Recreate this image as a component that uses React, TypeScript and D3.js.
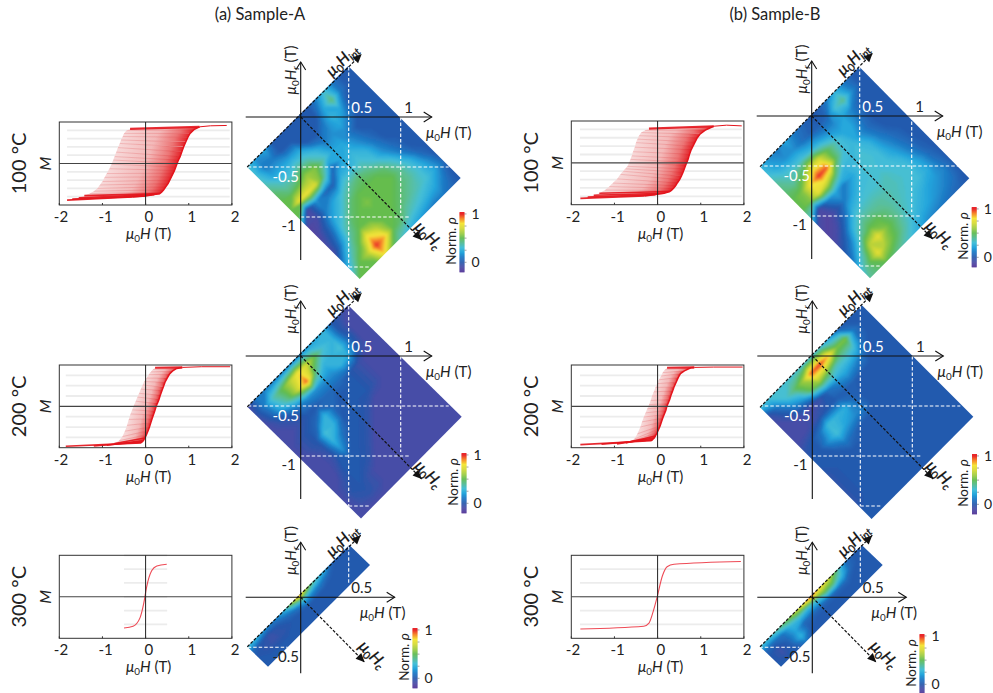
import React from 'react';
import * as d3 from 'd3';

// density, tenths of normalised rho, rows run from the Hint axis towards +Hc
const a100Grid = [
  [3, 1.5, 2, 0, 0, 0, 0, 0, 1, 3, 1, 0, 0],
  [3, 1, 1, 0, 0, 0, 0, 0, 2, 4.5, 1, 0, 0],
  [3.5, 2, 2, 2, 2, 0, 0, 1, 2.5, 2, 0, 0, 0],
  [4.5, 3.5, 3, 4, 3.5, 2.5, 1, 1.5, 2, 1, 0, 0, 0],
  [5, 4.5, 5, 6, 5.5, 3.5, 2, 2, 1, 0, 0, 0, 0],
  [5, 7.5, 7.8, 7.2, 4, 0.5, 2, 2.5, 1.5, 0.5, 0, 0, 0],
  [5, -1, 1.5, 0.5, 0.2, 2.5, 2.5, 3, 2.5, 1, 0, 0, 0],
  [-1.5, -1, 1, 2, 3, 4, 4.5, 4, 3, 1.5, 0.5, 0, 0],
  [-1.5, 0, 2, 3, 4.5, 5, 5, 5, 4.5, 3, 1, 0, 0],
  [-1, 0.5, 3, 4.5, 5, 5.5, 5, 5, 5, 4, 2.5, 0.5, 0],
  [-1, 1.5, 4, 5, 5, 5, 5, 5, 4.5, 4, 3, 1.5, 0],
  [1, 3.5, 5, 8, 6.5, 5, 5, 4.5, 4, 3.5, 3, 2, 0.5],
  [3, 5, 6.5, 10, 8.5, 5, 4.5, 3.5, 3, 2.5, 2, 1, 0],
  [5, 5, 5, 8, 5, 3.5, 2.5, 2, 1.5, 1, 1, 0.5, 0],
];
const a200Grid = [
  [-1, 1, 1, 1, 1, 1, 1, 1.5, 2, 2.5, 0, -0.5, -1],
  [-0.5, 1, 3.5, 5, 6.5, 8, 7, 5, 3, 2.5, 0, -1, -1],
  [-1, 0.5, 2.5, 4.5, 7, 9.5, 4.5, 2.5, 2.5, 3, 0.5, -1, -1],
  [-1, -0.5, 0, 1, 1.5, 1.5, 1.5, 1.5, 2.5, 2, 0, -1, -1],
  [-1, -1, -0.5, 0, 0, 0.5, 0.5, 0.5, 0, -0.5, -1, -1, -1],
  [-1, -0.5, 0, 0.5, 2.5, 0.5, 0, 0, 0, -0.5, -1, -1, -1],
  [-1, -0.5, 0, 3, 2.5, 0.2, 0, 0, 0, -0.5, -1, -1, -1],
  [-1, -1, -0.3, 2.5, 0.8, 0, 0, -0.3, -1, -1, -1, -1, -1],
  [-1, -1, -0.5, 1.5, 0, 0, -0.3, -1, -1, -1, -1, -1, -1],
  [-1, -1, 0, 0, 0, -0.3, -1, -1, -1, -1, -1, -1, -1],
  [-1, -0.5, 0, 0, -0.3, -1, -1, -1, -1, -1, -1, -1, -1],
  [-1, -0.2, 0, -0.5, -1, -1, -1, -1, -1, -1, -1, -1, -1],
  [-1, -0.5, -0.3, -0.5, -1, -1, -1, -1, -1, -1, -1, -1, -1],
  [-1, -1, -1, -1, -1, -1, -1, -1, -1, -1, -1, -1, -1],
];
const a300Grid = [
  [3, 2.5, 1.5, 1, 2, 5.5, 9, 6, 3.5, 2, 0.3, 0, 0],
  [0.5, 0, -0.5, 0, 0.5, 1, 2.5, 1.5, 1, 0.3, 0, 0, 0],
  [0, -0.3, -0.5, -0.3, 0, 0, 0, 0, 0, 0, 0, 0, 0],
  [0, 0, 0, 0, 0, 0, 0, 0, 0, 0, 0, 0, 0],
  [0, 0, 0, 0, 0, 0, 0, 0, 0, 0, 0, 0, 0],
];
const b100Grid = [
  [2.5, 1.5, 1, 2, 1, 0.5, 0, 0.2, 1, 2.5, 1, 0.2, 0],
  [3, 2, 1.5, 1.5, 0.8, 0.3, 0.2, 0.5, 3, 4.2, 1.5, 0.2, 0],
  [4, 3.2, 3, 3, 2.5, 2.2, 1.5, 1.5, 2, 1.2, 0.2, 0, 0],
  [4.5, 4, 5, 7, 7, 5, 3.5, 2.2, 2, 0.8, 0.1, 0, 0],
  [5, 5.5, 8, 10, 9.5, 5, 3, 2.7, 1.5, 0.6, 0, 0, 0],
  [5, 5.5, 7.5, 6.5, 4.5, 2.5, 2.7, 3, 2.5, 1, 0.2, 0, 0],
  [3.5, -1, 1, 2, 1, 2, 3, 3.2, 2.8, 1.5, 0.6, 0.1, 0],
  [-1, -1.5, -0.5, 1, 2, 2.8, 3, 3, 2.9, 2, 0.9, 0.2, 0],
  [-1.5, -1, 0.5, 2.5, 3, 3.2, 3.2, 3.5, 3, 2.7, 1.3, 0.3, 0],
  [-1, 0.2, 2.5, 3.8, 3.9, 3.9, 3.7, 3.5, 3.2, 3, 2, 0.6, 0],
  [0, 1.5, 4, 5, 5, 4.3, 3.7, 3.3, 3, 2.8, 2.2, 0.9, 0.1],
  [1, 3.5, 6.5, 7.5, 5.5, 4.5, 3.5, 3, 2.5, 2, 1.7, 1.2, 0.2],
  [3, 5, 7.5, 6, 5, 4, 3, 2.4, 2, 1.6, 1.2, 0.8, 0.1],
  [4, 4.5, 5, 4.5, 3.8, 3, 2.2, 1.5, 1.2, 0.9, 0.6, 0.3, 0],
];
const b200Grid = [
  [3, 3, 3, 3, 3, 3, 3, 3, 2, 0.5, 0, 0, 0],
  [-0.5, 1, 3, 4.5, 6, 9.5, 10, 8.5, 5.5, 5.5, 1, 0, 0],
  [-1, -0.3, 1, 2, 5, 6, 5, 3.5, 3.5, 3, 0.5, 0, 0],
  [-1, -1, -0.8, -1, -0.5, 0.8, 1.5, 2, 1.5, 0.8, 0, 0, 0],
  [-1, -1, -0.7, -0.3, 0, 0.2, 0.3, 0.3, 0, 0, 0, 0, 0],
  [-0.5, 0, 0.8, 2.8, 2.5, 2.2, 0.5, 0, 0, 0, 0, 0, 0],
  [0, 0, 1.5, 3, 2, 1.5, 1, 0, 0, 0, 0, 0, 0],
  [0, 0, 0.2, 1, 0.5, 0, 0, 0, 0, 0, 0, 0, 0],
  [-0.3, 0, 0, 0, 0, 0, 0, 0, 0, 0, 0, 0, 0],
  [-0.3, 0, 0, 0, 0, 0, 0, 0, 0, 0, 0, 0, 0],
  [-0.3, 0, 0, 0, 0, 0, 0, 0, 0, 0, 0, 0, 0],
  [-0.3, 0, 0, 0, 0, 0, 0, 0, 0, 0, 0, 0, 0],
  [0, 0, 0, 0, 0, 0, 0, 0, 0, 0, 0, 0, 0],
  [0, 0, 0, 0, 0, 0, 0, 0, 0, 0, 0, 0, 0],
];
const b300Grid = [
  [3, 3, 4, 5, 6.5, 8, 10, 8, 7, 4.5, 0.8, 0, 0],
  [0.5, 0.5, 0.8, 2.5, 3, 2.5, 3, 5, 4.5, 2.5, 0.5, 0, 0],
  [0, -0.5, 0.5, 2, 0.5, 0.5, 0.5, 0.5, 0.5, 0.5, 0, 0, 0],
  [0, -0.5, 0.3, 2.5, 0.3, 0, 0, 0, 0, 0, 0, 0, 0],
  [0, 0, 0, 1, 0, 0, 0, 0, 0, 0, 0, 0, 0],
];

// diamond corners in (H, Hr), left top right
const a100Corners = [[-0.535, -0.5], [0.475, 0.51], [1.6, -0.61]];
const a200Corners = [[-0.534, -0.507], [0.473, 0.51], [1.61, -0.607]];
const a300Corners = [[-0.534, -0.494], [0.486, 0.523], [0.693, 0.323]];
const b100Corners = [[-0.517, -0.507], [0.476, 0.493], [1.576, -0.623]];
const b200Corners = [[-0.523, -0.513], [0.494, 0.51], [1.61, -0.607]];
const b300Corners = [[-0.523, -0.494], [0.494, 0.523], [0.704, 0.323]];

// reversal curves: row i runs from left branch point i to right branch point i
const a100LeftH = [-0.36, -0.45, -0.5, -0.53, -0.57, -0.6, -0.64, -0.68, -0.72, -0.75, -0.79, -0.84, -0.9, -0.95, -1.0, -1.06, -1.12, -1.2, -1.3, -1.42, -1.55, -1.7, -1.82];
const a100LeftM = [1.0, 0.95, 0.87, 0.78, 0.68, 0.58, 0.46, 0.33, 0.2, 0.1, -0.02, -0.15, -0.29, -0.4, -0.52, -0.62, -0.72, -0.8, -0.87, -0.93, -0.99, -1.03, -1.06];
const a100RightH = [1.25, 1.12, 1.03, 0.98, 0.93, 0.88, 0.84, 0.8, 0.76, 0.73, 0.7, 0.67, 0.64, 0.6, 0.56, 0.52, 0.47, 0.42, 0.37, 0.33, 0.2, 0.0, -0.3];
const a100RightM = [1.06, 0.98, 0.87, 0.76, 0.62, 0.48, 0.34, 0.2, 0.1, 0, -0.1, -0.2, -0.28, -0.38, -0.48, -0.58, -0.67, -0.76, -0.83, -0.87, -0.9, -0.94, -0.97];
const a100SatH = [1.25, 1.5, 1.88];
const a100SatM = [1.06, 1.09, 1.1];

const a200LeftH = [0.22, 0.17, 0.12, 0.07, 0.02, -0.03, -0.07, -0.11, -0.15, -0.19, -0.23, -0.27, -0.31, -0.35, -0.39, -0.43, -0.48, -0.54, -0.62, -0.72, -0.9, -1.2, -1.85];
const a200LeftM = [1.12, 1.07, 1, 0.92, 0.82, 0.72, 0.62, 0.5, 0.38, 0.27, 0.15, 0.03, -0.1, -0.22, -0.38, -0.55, -0.72, -0.88, -1.0, -1.08, -1.13, -1.15, -1.16];
const a200RightH = [0.85, 0.72, 0.62, 0.55, 0.5, 0.45, 0.41, 0.38, 0.34, 0.31, 0.27, 0.24, 0.21, 0.18, 0.15, 0.12, 0.09, 0.06, 0.02, -0.02, -0.05, -0.08, -0.1];
const a200RightM = [1.13, 1.1, 1.02, 0.93, 0.82, 0.7, 0.56, 0.46, 0.32, 0.2, 0.08, -0.02, -0.14, -0.25, -0.36, -0.48, -0.6, -0.7, -0.82, -0.92, -0.99, -1.03, -1.06];
const a200SatH = [0.85, 1.3, 1.96];
const a200SatM = [1.13, 1.15, 1.15];

const b100LeftH = [-0.2, -0.3, -0.38, -0.43, -0.47, -0.5, -0.53, -0.57, -0.6, -0.63, -0.66, -0.7, -0.75, -0.8, -0.86, -0.94, -1.04, -1.12, -1.22, -1.35, -1.48, -1.62, -1.79];
const b100LeftM = [0.98, 0.93, 0.87, 0.78, 0.68, 0.58, 0.45, 0.32, 0.2, 0.1, 0, -0.1, -0.17, -0.24, -0.33, -0.46, -0.58, -0.68, -0.78, -0.87, -0.93, -0.98, -1.02];
const b100RightH = [1.3, 1.12, 0.98, 0.92, 0.87, 0.82, 0.78, 0.74, 0.71, 0.68, 0.65, 0.62, 0.59, 0.55, 0.51, 0.46, 0.42, 0.37, 0.32, 0.28, 0.15, -0.05, -0.3];
const b100RightM = [1.05, 0.95, 0.82, 0.72, 0.6, 0.48, 0.38, 0.25, 0.12, 0.02, -0.07, -0.17, -0.27, -0.38, -0.48, -0.57, -0.65, -0.73, -0.79, -0.82, -0.87, -0.91, -0.95];
const b100SatH = [1.3, 1.6, 1.95];
const b100SatM = [1.05, 1.08, 1.06];

const b200LeftH = [0.22, 0.17, 0.12, 0.08, 0.03, -0.01, -0.05, -0.09, -0.13, -0.16, -0.2, -0.24, -0.28, -0.32, -0.36, -0.4, -0.47, -0.54, -0.63, -0.74, -0.94, -1.3, -1.79];
const b200LeftM = [1.12, 1.06, 0.98, 0.88, 0.77, 0.66, 0.55, 0.42, 0.3, 0.17, 0.05, -0.07, -0.19, -0.31, -0.45, -0.6, -0.8, -0.95, -1.02, -1.06, -1.09, -1.1, -1.11];
const b200RightH = [0.85, 0.77, 0.62, 0.53, 0.48, 0.43, 0.38, 0.35, 0.31, 0.28, 0.24, 0.21, 0.19, 0.15, 0.12, 0.09, 0.06, 0.03, -0.01, -0.05, -0.08, -0.12, -0.15];
const b200RightM = [1.13, 1.12, 1.03, 0.95, 0.84, 0.7, 0.56, 0.45, 0.32, 0.2, 0.08, -0.02, -0.12, -0.24, -0.34, -0.45, -0.56, -0.65, -0.76, -0.86, -0.92, -0.97, -1.0];
const b200SatH = [0.85, 1.3, 1.97];
const b200SatM = [1.13, 1.14, 1.14];

const a300H = [-0.5, -0.29, -0.13, -0.04, 0.02, 0.14, 0.26, 0.49];
const a300M = [-0.9, -0.85, -0.61, -0.17, 0.26, 0.75, 0.89, 0.94];
const b300H = [-1.79, -0.32, -0.2, -0.09, -0.01, 0.11, 0.22, 0.38, 1.93];
const b300M = [-0.93, -0.85, -0.76, -0.37, 0, 0.6, 0.87, 0.94, 1.02];

const hTicks = [-2, -1, 0, 1, 2];
const stripes100 = [-0.96, -0.72, -0.48, -0.24, 0.24, 0.48, 0.72, 0.96];
const stripes200 = [-0.9, -0.6, -0.3, 0.3, 0.6, 0.9];
const stripes300 = [-0.8, -0.4, 0, 0.4, 0.8, 1.2];

const rhoDomain = [-2, -1, 0, 1, 2, 3, 4, 5, 6, 7, 8, 9, 10];
const rhoColors = ['#5b3d9c', '#4a4ca6', '#2457ab', '#1e78c4', '#25a5dc', '#45bfd8', '#5bbf9a', '#5fbb4f', '#9ccb3e', '#d3d936', '#f5e63a', '#f68b2c', '#e8262b'];
const color = d3.scaleLinear<string>().domain(rhoDomain).range(rhoColors);
const levels = [-3, ...d3.range(-2, 10.2, 0.2)];

const FONT = 'Lato, "Open Sans", sans-serif';

function Mu({ sub, unit, size = 15, ...rest }: any) {
  return (
    <text textAnchor="middle" fontFamily={FONT} fontSize={size} {...rest}>
      <tspan fontStyle="italic">μ</tspan>
      <tspan dy={3} fontSize={size * 0.66}>0</tspan>
      <tspan dy={-3} fontStyle="italic">H</tspan>
      {sub && <tspan dy={3} fontSize={size * 0.66} fontStyle="italic">{sub}</tspan>}
      {unit && <tspan dy={sub ? -3 : 0}> (T)</tspan>}
    </text>
  );
}

function Loop({ id, x0, top, bottom, temp, left, right, sat, single, stripes, stripeRange }: any) {
  const x = d3.scaleLinear().domain([-2, 2]).range([x0, x0 + 172.6]);
  const y = d3.scaleLinear().domain([-1.2, 1.2]).range([bottom, top]);
  const line = d3.line<number[]>().x(d => x(d[0])).y(d => y(d[1]));
  const smooth = d3.line<number[]>().x(d => x(d[0])).y(d => y(d[1])).curve(d3.curveMonotoneX);
  const rows = left ? left[0].map((h: number, i: number) => ({
    a: [h, left[1][i]], b: [right[0][i], right[1][i]],
  })) : [];
  const outline = rows.length ? [...rows.map((r: any) => r.a), ...rows.map((r: any) => r.b).reverse()] : [];
  const rightEdge = rows.map((r: any) => r.b);
  const n = rows.length;
  return (
    <g>
      <defs>
        {n > 0 && <clipPath id={`loop-${id}`}><path d={line(outline) as string} /></clipPath>}
        {rows.map((r: any, i: number) => (
          <linearGradient key={i} id={`row-${id}-${i}`} gradientUnits="userSpaceOnUse"
            x1={x(r.a[0])} x2={x(r.b[0])} y1={y(r.a[1])} y2={y(r.a[1])}>
            <stop offset="0" stopColor="#f7d8d8" />
            <stop offset="0.5" stopColor="#f3b9b9" />
            <stop offset="0.8" stopColor="#ec7474" />
            <stop offset="1" stopColor="#e31e24" />
          </linearGradient>
        ))}
      </defs>
      {stripes.map((m: number) => (
        <line key={m} x1={x(stripeRange[0])} x2={x(stripeRange[1])} y1={y(m)} y2={y(m)} stroke="#ececec" strokeWidth={1.8} />
      ))}
      <g clipPath={n > 0 ? `url(#loop-${id})` : undefined}>
        {rows.map((r: any, i: number) => {
          const next = rows[Math.min(i + 1, n - 1)];
          const w = Math.max(4, Math.abs(y(r.a[1]) - y(next.a[1])) + 1);
          return (
            <line key={i} x1={x(r.a[0]) - 4} y1={y(r.a[1]) + w / 2} x2={x(r.b[0]) + 4} y2={y(r.b[1]) + w / 2}
              stroke={`url(#row-${id}-${i})`} strokeWidth={w} />
          );
        })}
        {rows.map((r: any, i: number) => (
          <line key={i} x1={x(r.a[0])} y1={y(r.a[1])} x2={x(r.b[0])} y2={y(r.b[1])}
            stroke="#d9222a" strokeWidth={0.4} strokeOpacity={0.45} />
        ))}
      </g>
      {rows.map((r: any, i: number) => {
        if (i > 0 && i < n - 4) return null;
        return (
          <line key={i} x1={x(r.a[0])} y1={y(r.a[1])} x2={x(r.b[0])} y2={y(r.b[1])}
            stroke="#e3141c" strokeWidth={i === 0 ? 2.2 : 1.6} strokeOpacity={0.9} />
        );
      })}
      {n > 0 && <path d={line(rightEdge) as string} fill="none" stroke="#e3141c" strokeWidth={1.5} />}
      {sat && <path d={line(sat[0].map((h: number, i: number) => [h, sat[1][i]])) as string} fill="none" stroke="#e3141c" strokeWidth={1} />}
      {single && <path d={smooth(single[0].map((h: number, i: number) => [h, single[1][i]])) as string} fill="none" stroke="#ee4a55" strokeWidth={1.1} />}
      <rect x={x(-2)} y={top} width={x(2) - x(-2)} height={bottom - top} fill="none" stroke="#333" strokeWidth={1} />
      <line x1={x(-2)} x2={x(2)} y1={y(0)} y2={y(0)} stroke="#444" strokeWidth={1.1} />
      <line x1={x(0)} x2={x(0)} y1={top} y2={bottom} stroke="#222" strokeWidth={1} />
      {hTicks.map(t => (
        <g key={t}>
          <line x1={x(t)} x2={x(t)} y1={bottom} y2={bottom - 2} stroke="#333" />
          <text x={x(t) + (t === -2 ? 1.7 : 3.2)} y={bottom + 17} textAnchor="middle" fontFamily={FONT} fontSize={15} fill="#222">{t}</text>
        </g>
      ))}
      <Mu x={x(0) + 3} y={bottom + 34} fill="#222" unit />
      <text transform={`translate(${x0 - 8},${y(0)}) rotate(-90)`} textAnchor="middle" fontFamily={FONT} fontSize={16} fontStyle="italic" fill="#222">M</text>
      <text transform={`translate(${x0 - 33},${y(0)}) rotate(-90)`} textAnchor="middle" fontFamily={FONT} fontSize={20} fill="#222">{temp}</text>
    </g>
  );
}

function ColorBar({ x, top }: any) {
  const y = d3.scaleLinear().domain([-2, 10.4]).range([top + 60, top]);
  const steps = d3.range(-2, 10.4, 0.2);
  return (
    <g>
      {steps.map(s => (
        <rect key={s} x={x} y={y(s + 0.2)} width={5} height={y(s) - y(s + 0.2) + 0.4} fill={color(Math.min(s, 10))} />
      ))}
      {[0, 2.5, 5, 7.5, 10].map(t => (
        <line key={t} x1={x + 5} x2={x + 7} y1={y(t)} y2={y(t)} stroke="#666" strokeWidth={0.6} />
      ))}
      <text x={x + 16} y={y(10) + 5} textAnchor="middle" fontFamily={FONT} fontSize={14} fill="#222">1</text>
      <text x={x + 16} y={y(0) + 5} textAnchor="middle" fontFamily={FONT} fontSize={14} fill="#222">0</text>
      <text transform={`translate(${x - 4},${top + 29}) rotate(-90)`} textAnchor="middle" fontFamily={FONT} fontSize={13.5} fill="#222">
        Norm. <tspan fontStyle="italic">ρ</tspan>
      </text>
    </g>
  );
}

function Forc({ id, ox, oy, grid, corners, narrow, bar }: any) {
  const fx = d3.scaleLinear().domain([0, 1]).range([ox, ox + 100]);
  const fy = d3.scaleLinear().domain([0, -1]).range([oy, oy + 100]);
  const [L, T, R] = corners.map((c: number[]) => [fx(c[0]), fy(c[1])]);
  const B = [L[0] + R[0] - T[0], L[1] + R[1] - T[1]];
  const nv = grid.length;
  const nu = grid[0].length;
  const a = (T[0] - L[0]) / (nu - 1);
  const b = (T[1] - L[1]) / (nu - 1);
  const c = (R[0] - T[0]) / (nv - 1);
  const d = (R[1] - T[1]) / (nv - 1);
  const matrix = `matrix(${a} ${b} ${c} ${d} ${L[0] - 0.5 * a - 0.5 * c} ${L[1] - 0.5 * b - 0.5 * d})`;
  const bands = d3.contours().size([nu, nv]).thresholds(levels)(grid.flat());
  const path = d3.geoPath();
  const poly = [L, T, R, B].map(p => p.join(',')).join(' ');

  const labelColor = narrow ? '#222' : '#fff';
  const hintTip = narrow ? [0.6, 0.62] : [0.61, 0.63];
  const hcTip = narrow ? [0.64, -0.65] : [1.21, -1.23];
  const axisEnd = narrow ? 0.94 : 1.31;
  const axisLow = narrow ? -0.76 : -1.43;

  const dashes = narrow
    ? [[[0.48, 0.51], [0.48, 0.13]], [[-0.53, -0.5], [-0.13, -0.5]]]
    : [[[0.48, 0.5], [0.48, -1.5]], [[1, 0], [1, -0.96]], [[-0.53, -0.5], [1.48, -0.5]], [[0, -1], [1.08, -1]], [[0.48, -1.5], [0.7, -1.5]]];

  return (
    <g>
      <defs>
        <clipPath id={`clip-${id}`}><polygon points={poly} /></clipPath>
        <filter id={`soft-${id}`} x="-5%" y="-5%" width="110%" height="110%"><feGaussianBlur stdDeviation={narrow ? 0.8 : 1.3} /></filter>
      </defs>
      <g clipPath={`url(#clip-${id})`}>
        <g filter={`url(#soft-${id})`}>
          <g transform={matrix}>
            {bands.map(band => (
              <path key={band.value} d={path(band as any) as string} fill={color(Math.min(band.value + 0.1, 10))} />
            ))}
          </g>
        </g>
      </g>
      {dashes.map((s, i) => (
        <line key={i} x1={fx(s[0][0])} y1={fy(s[0][1])} x2={fx(s[1][0])} y2={fy(s[1][1])} stroke="#fff" strokeWidth={1.1} strokeDasharray="3.5 2" />
      ))}
      <line x1={L[0]} y1={L[1]} x2={fx(hintTip[0])} y2={fy(hintTip[1])} stroke="#111" strokeWidth={1.2} strokeDasharray="3 1.6" markerEnd="url(#solidHead)" />
      <line x1={fx(0)} y1={fy(0)} x2={fx(hcTip[0])} y2={fy(hcTip[1])} stroke="#111" strokeWidth={1.2} strokeDasharray="3 1.6" markerEnd="url(#solidHead)" />
      <line x1={fx(-0.55)} y1={fy(0)} x2={fx(axisEnd)} y2={fy(0)} stroke="#111" strokeWidth={1.1} markerEnd="url(#openHead)" />
      <line x1={fx(0)} y1={fy(axisLow)} x2={fx(0)} y2={fy(0.55)} stroke="#111" strokeWidth={1.1} markerEnd="url(#openHead)" />

      <g fontFamily={FONT} fontSize={15} textAnchor="middle">
        <text x={ox + 61} y={oy - 4} fill={narrow ? '#222' : '#fff'}>0.5</text>
        {!narrow && <text x={ox + 108} y={oy - 4} fill="#222">1</text>}
        <text x={ox - 15} y={oy + 65} fill={labelColor}>-0.5</text>
        {!narrow && <text x={ox - 12} y={oy + 114} fill="#222">-1</text>}
      </g>
      <Mu x={ox + (narrow ? 82 : 148)} y={oy + 21} fill="#222" unit />
      <Mu transform={`translate(${ox - 5},${oy - 47}) rotate(-90)`} fill="#222" sub="r" unit />
      <Mu transform={`translate(${ox + 45},${oy - 53}) rotate(-45)`} fill="#111" sub="int" size={16} stroke="#111" strokeWidth={0.3} />
      <Mu transform={`translate(${ox + (narrow ? 68 : 124)},${oy + (narrow ? 61 : 122)}) rotate(45)`} fill="#111" sub="c" size={16} stroke="#111" strokeWidth={0.3} />
      <ColorBar x={bar[0]} top={bar[1]} />
    </g>
  );
}

export default function App() {
  return (
    <svg width={993} height={693} style={{ position: 'absolute', left: 0, top: 0, background: '#fff' }}>
      <defs>
        <marker id="openHead" markerUnits="userSpaceOnUse" markerWidth={14} markerHeight={14} refX={12} refY={7} orient="auto">
          <path d="M4,2 L12,7 L4,12" fill="none" stroke="#111" strokeWidth={1.1} />
        </marker>
        <marker id="solidHead" markerUnits="userSpaceOnUse" markerWidth={12} markerHeight={12} refX={10} refY={6} orient="auto">
          <path d="M1,2 L10,6 L1,10 Z" fill="#111" />
        </marker>
      </defs>
      <text x={260} y={20} textAnchor="middle" fontFamily={FONT} fontSize={16.5} fill="#222">(a) Sample-A</text>
      <text x={775} y={20} textAnchor="middle" fontFamily={FONT} fontSize={16.5} fill="#222">(b) Sample-B</text>

      <Loop id="a100" x0={59.3} top={122} bottom={205} temp="100 °C" left={[a100LeftH, a100LeftM]} right={[a100RightH, a100RightM]} sat={[a100SatH, a100SatM]} stripes={stripes100} stripeRange={[-1.82, 1.95]} />
      <Loop id="a200" x0={59.3} top={365} bottom={447.7} temp="200 °C" left={[a200LeftH, a200LeftM]} right={[a200RightH, a200RightM]} sat={[a200SatH, a200SatM]} stripes={stripes200} stripeRange={[-1.85, 1.97]} />
      <Loop id="a300" x0={59.3} top={555.3} bottom={638.3} temp="300 °C" single={[a300H, a300M]} stripes={stripes300} stripeRange={[-0.5, 0.5]} />
      <Loop id="b100" x0={571.3} top={121} bottom={204.7} temp="100 °C" left={[b100LeftH, b100LeftM]} right={[b100RightH, b100RightM]} sat={[b100SatH, b100SatM]} stripes={stripes100} stripeRange={[-1.8, 1.95]} />
      <Loop id="b200" x0={571.3} top={365} bottom={447.7} temp="200 °C" left={[b200LeftH, b200LeftM]} right={[b200RightH, b200RightM]} sat={[b200SatH, b200SatM]} stripes={stripes200} stripeRange={[-1.8, 1.97]} />
      <Loop id="b300" x0={571.3} top={555.3} bottom={638.3} temp="300 °C" single={[b300H, b300M]} stripes={stripes300} stripeRange={[-1.8, 1.97]} />

      <Forc id="fa100" ox={300.7} oy={117} grid={a100Grid} corners={a100Corners} bar={[459.5, 212]} />
      <Forc id="fa200" ox={300.7} oy={356} grid={a200Grid} corners={a200Corners} bar={[461.5, 453]} />
      <Forc id="fa300" ox={300.7} oy={597.3} grid={a300Grid} corners={a300Corners} narrow bar={[412.5, 628]} />
      <Forc id="fb100" ox={811.7} oy={116} grid={b100Grid} corners={b100Corners} bar={[971.7, 207]} />
      <Forc id="fb200" ox={812.3} oy={356} grid={b200Grid} corners={b200Corners} bar={[972, 454]} />
      <Forc id="fb300" ox={812.3} oy={597.3} grid={b300Grid} corners={b300Corners} narrow bar={[919.5, 634]} />
    </svg>
  );
}
